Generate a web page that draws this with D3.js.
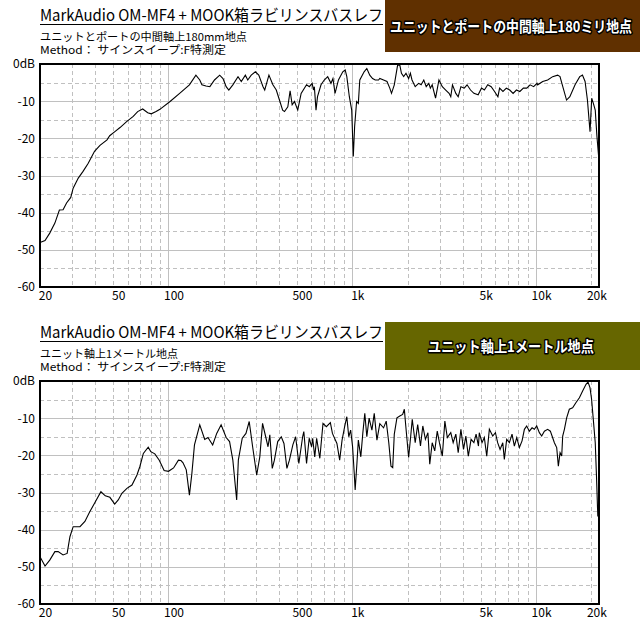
<!DOCTYPE html>
<html><head><meta charset="utf-8">
<script src="https://cdn.jsdelivr.net/npm/d3@7"></script>
<style>
body{margin:0;background:#fff;}
text{font-family:"Noto Sans CJK JP","DejaVu Sans",sans-serif;}
</style></head>
<body>
<svg id="c" width="640" height="637"></svg>
<script>
// ---------- data ----------
const titleText = "MarkAudio OM-MF4 + MOOK箱ラビリンスバスレフ";
const methodText = "Method： サインスイープ:F特測定";
const subTexts = ["ユニットとポートの中間軸上180mm地点", "ユニット軸上1メートル地点"];
const badgeTexts = ["ユニットとポートの中間軸上180ミリ地点", "ユニット軸上1メートル地点"];
const badgeColors = ["#603000", "#666600"];

const xTickValues = [20, 50, 100, 500, 1000, 5000, 10000, 20000];
const xTickLabels = ["20", "50", "100", "500", "1k", "5k", "10k", "20k"];
const yTickValues = [0, -10, -20, -30, -40, -50, -60];
const yTickLabels = ["0dB", "-10", "-20", "-30", "-40", "-50", "-60"];

const topFreq = [20,21.3,22.6,24.1,25.5,26.7,27.9,29.4,30.3,32.3,34.3,36.6,39.6,42.4,46.3,47.9,51.1,54.5,59.2,64.3,68,72.4,77.1,80.6,85.6,89.8,102,115,130,141,148,152,160,168,178,190,198,206,213,224,239,249,262,270,282,297,310,327,334,352,370,386,404,418,428,446,459,471,485,505,527,564,584,605,615,622,635,647,676,704,735,766,785,806,841,888,915,934,964,993,1013,1030,1056,1079,1099,1160,1200,1245,1290,1333,1390,1412,1480,1545,1600,1635,1693,1765,1814,1852,1904,1960,2026,2071,2114,2200,2296,2370,2450,2525,2609,2660,2722,2839,2962,3090,3224,3363,3435,3509,3660,3770,3900,4068,4213,4400,4590,4840,5050,5233,5460,5700,5945,6200,6332,6606,6892,7190,7500,7820,8160,8530,8900,9280,9700,10120,10200,10870,11560,12310,13100,13500,14050,14650,15270,16300,17280,17880,18480,19030,19660,20080,20500,20990,21440,21900,22000];
const topDb = [-48,-47.5,-45.5,-42.8,-39.3,-39.2,-37.4,-35.9,-33.4,-30.7,-28.9,-26.7,-23.5,-21.9,-20.4,-19.3,-18.2,-17.1,-15.5,-14.1,-12.8,-12.1,-13.1,-13.4,-12.8,-12.2,-10.1,-7.9,-5.6,-3.0,-4.3,-5.6,-5.9,-6.1,-4.3,-3.0,-3.9,-6.1,-7.0,-5.6,-3.4,-4.7,-3.0,-4.3,-3.0,-2.1,-3.0,-6.1,-7.0,-3.0,-5.6,-7.0,-10.1,-12.4,-12.8,-11.5,-7.2,-11.0,-10.1,-12.4,-7.9,-5.6,-6.1,-5.2,-7.0,-6.1,-12.4,-8.8,-5.6,-4.3,-3.4,-5.2,-3.9,-7.9,-4.3,-2.1,-1.6,-3.4,-8.8,-12.4,-24.9,-16.8,-10.1,-10.6,-4.3,-2.1,-1.2,-3.0,-3.9,-4.3,-4.3,-3.9,-4.3,-4.7,-6.5,-7.9,-5.6,-0.3,-0.3,-2.5,-3.4,-2.5,-3.9,-2.5,-4.3,-6.1,-5.2,-5.6,-4.3,-6.1,-5.2,-6.5,-5.6,-9.2,-4.3,-6.1,-7.0,-7.9,-8.8,-5.6,-7.9,-8.8,-6.1,-6.5,-5.6,-7.0,-7.9,-8.3,-6.5,-7.0,-5.6,-6.1,-7.4,-8.8,-6.5,-7.4,-6.5,-7.0,-7.9,-7.0,-7.4,-6.5,-6.5,-5.6,-6.1,-5.2,-5.6,-4.7,-4.3,-3.4,-3.0,-3.4,-6.5,-9.7,-8.8,-5.6,-3.4,-3.0,-4.7,-9.7,-18.2,-9.2,-10.6,-12.4,-19.5,-24.9,-38];

const botFreq = [20,21.3,22.6,24.1,25.1,26.7,28.1,29.1,30.3,33,35.1,37.3,39.6,42.9,45.3,48,51,53.3,55.8,59.4,63.3,67.4,69.9,73,77.6,80.1,84.3,89.1,94.7,100,106.6,113.3,117,120,125,130,134,138.5,148,157.5,164,174,183,193.4,206,215,224,235,240,252,264,275,287,302,314,325,338,348,356,367,377,393,411,425,441,455,475,492,512,537,545,564,583,601,609,625,640,666,693,723,760,780,825,854,880,909,934,957,980,1004,1025,1037,1060,1079,1113,1141,1170,1200,1235,1279,1317,1362,1412,1480,1530,1580,1624,1660,1693,1750,1814,1880,1920,1955,2026,2080,2120,2200,2270,2350,2420,2500,2580,2640,2722,2810,2900,2980,3090,3190,3290,3435,3540,3660,3770,3900,4030,4150,4280,4430,4590,4717,4860,4910,5080,5230,5390,5570,5810,6010,6180,6370,6590,6720,6920,7160,7400,7620,7850,8115,8390,8640,8890,9195,9510,9790,10080,10420,10730,11100,11560,11960,12220,12580,12950,13220,13510,13790,13960,14260,14670,15170,15810,16500,17210,17920,18700,19170,19650,20050,20480,20990,21320,21670,22000];
const botDb = [-47.3,-49.8,-48.2,-45.9,-45.9,-46.8,-46.4,-41.9,-39.2,-39.2,-37.8,-35.2,-32.9,-29.8,-30.9,-31.3,-33.1,-32.0,-30.2,-28.9,-28.0,-25.3,-23.0,-19.5,-17.8,-19.0,-19.6,-21.3,-24.1,-24.3,-23.4,-21.3,-21.4,-22.0,-23.9,-30.7,-25.0,-17.2,-11.8,-15.7,-15.2,-17.2,-14.1,-11.8,-15.2,-16.3,-21.3,-32.0,-21.3,-15.4,-14.1,-10.9,-17.7,-25.3,-20.4,-11.4,-15.0,-17.7,-14.5,-23.5,-21.3,-16.3,-15.0,-16.8,-23.5,-21.3,-17.2,-15.0,-22.2,-15.0,-13.6,-22.2,-15.4,-17.7,-15.4,-20.4,-15.4,-20.8,-11.4,-12.3,-11.2,-14.1,-16.8,-21.3,-15.9,-12.3,-9.6,-15.0,-13.2,-17.7,-24.8,-29.3,-22.2,-15.9,-20.4,-14.1,-8.7,-15.0,-10.0,-13.2,-8.7,-15.9,-11.5,-12.6,-10.8,-16.6,-22.9,-23.3,-14.3,-9.9,-9.4,-9.0,-7.6,-12.1,-20.6,-14.8,-10.3,-16.6,-11.7,-17.5,-12.1,-15.7,-13.9,-22.4,-16.6,-18.8,-13.5,-16.6,-20.2,-10.8,-15.2,-13.9,-16.6,-14.3,-19.3,-13.0,-18.4,-14.8,-20.2,-15.7,-16.6,-14.3,-17.5,-13.9,-16.6,-15.2,-20.2,-13.0,-14.8,-13.9,-16.6,-18.4,-16.6,-21.1,-15.7,-16.6,-14.3,-17.5,-15.2,-17.9,-16.1,-13.0,-12.1,-13.5,-12.6,-13.0,-12.1,-13.9,-14.8,-13.5,-13.0,-13.5,-14.8,-16.6,-17.9,-22.9,-19.3,-20.2,-14.8,-13.0,-9.9,-7.6,-7.2,-5.8,-4.5,-2.7,-0.9,-0.3,-1.8,-4.9,-10.3,-16.6,-25.6,-36.3,-36.5];

// ---------- drawing ----------
const svg = d3.select("#c");
svg.append("rect").attr("width",640).attr("height",637).attr("fill","#fff");

const minorFreqs = [];
[10,100,1000,10000].forEach(dec => { for (let m=1; m<=9; m++){ const f=dec*m; if (f>=20 && f<=20000) minorFreqs.push(f);} });

function panel(offY, freq, db, idx){
  const g = svg.append("g");
  const x = d3.scaleLog().domain([20, 22000]).range([40, 599]);
  const y = d3.scaleLinear().domain([-60, 0]).range([offY+223, offY]);

  // grid
  const majors = [100,1000,10000];
  g.selectAll(null).data(minorFreqs).join("line")
    .attr("x1", d=>Math.round(x(d))+0.5).attr("x2", d=>Math.round(x(d))+0.5)
    .attr("y1", y(0)).attr("y2", y(-60))
    .attr("stroke","#c0c0c0").attr("stroke-width",1)
    .attr("stroke-dasharray", d => majors.includes(d) ? null : "4,3");
  const dbLines = d3.range(-55, 0, 5);
  g.selectAll(null).data(dbLines).join("line")
    .attr("x1", 40).attr("x2", 599)
    .attr("y1", d=>Math.round(y(d))+0.5).attr("y2", d=>Math.round(y(d))+0.5)
    .attr("stroke","#c0c0c0").attr("stroke-width",1)
    .attr("stroke-dasharray", d => d%10===0 ? null : "4,3");

  // curve
  const pts = freq.map((f,i)=>[f, db[i]]);
  g.append("path").datum(pts)
    .attr("fill","none").attr("stroke","#000").attr("stroke-width",1.1)
    .attr("d", d3.line().x(d=>x(d[0])).y(d=>y(d[1])));

  // frame
  g.append("rect").attr("x",40).attr("y",offY).attr("width",559).attr("height",223)
    .attr("fill","none").attr("stroke","#000").attr("stroke-width",2);

  // axes
  const xa = g.append("g").attr("transform",`translate(0,${offY+223})`)
    .call(d3.axisBottom(x).tickValues(xTickValues).tickSize(0).tickPadding(4)
      .tickFormat((d,i)=>xTickLabels[i]));
  xa.select(".domain").remove();
  xa.selectAll("text").attr("font-family",'"Noto Sans CJK JP"').attr("font-size",12)
    .attr("fill","#000").attr("dx",5);
  const ya = g.append("g").attr("transform","translate(35,0)")
    .call(d3.axisLeft(y).tickValues(yTickValues).tickSize(0).tickPadding(0)
      .tickFormat((d,i)=>yTickLabels[i]));
  ya.select(".domain").remove();
  ya.selectAll("text").attr("font-family",'"Noto Sans CJK JP"').attr("font-size",12).attr("fill","#000");

  // header
  const hy = offY - 64;
  g.append("text").attr("x",40).attr("y",hy+21).attr("font-size",16)
    .attr("textLength",343).attr("lengthAdjust","spacingAndGlyphs").text(titleText);
  g.append("line").attr("x1",40).attr("x2",383).attr("y1",hy+24.5).attr("y2",hy+24.5)
    .attr("stroke","#000").attr("stroke-width",1);
  g.append("text").attr("x",40).attr("y",hy+41).attr("font-size",11)
    .attr("textLength", idx===0?207:138).attr("lengthAdjust","spacingAndGlyphs").text(subTexts[idx]);
  g.append("text").attr("x",40).attr("y",hy+54).attr("font-size",11)
    .attr("textLength",186).attr("lengthAdjust","spacingAndGlyphs").text(methodText);
}

panel(64, topFreq, topDb, 0);
panel(381, botFreq, botDb, 1);

// badges
const badgeY = [0, 322], badgeH = [52, 48], badgeW = [242, 166];
badgeTexts.forEach((t,i)=>{
  svg.append("rect").attr("x",385).attr("y",badgeY[i]).attr("width",255).attr("height",badgeH[i])
    .attr("fill",badgeColors[i]);
  svg.append("text").attr("x",511).attr("y",badgeY[i]+badgeH[i]/2+6)
    .attr("text-anchor","middle").attr("font-size",15).attr("font-weight","bold")
    .attr("fill","#fff").attr("stroke","#000").attr("stroke-width",3)
    .attr("paint-order","stroke").attr("stroke-linejoin","round")
    .attr("textLength",badgeW[i]).attr("lengthAdjust","spacingAndGlyphs").text(t);
});
</script>
</body></html>
